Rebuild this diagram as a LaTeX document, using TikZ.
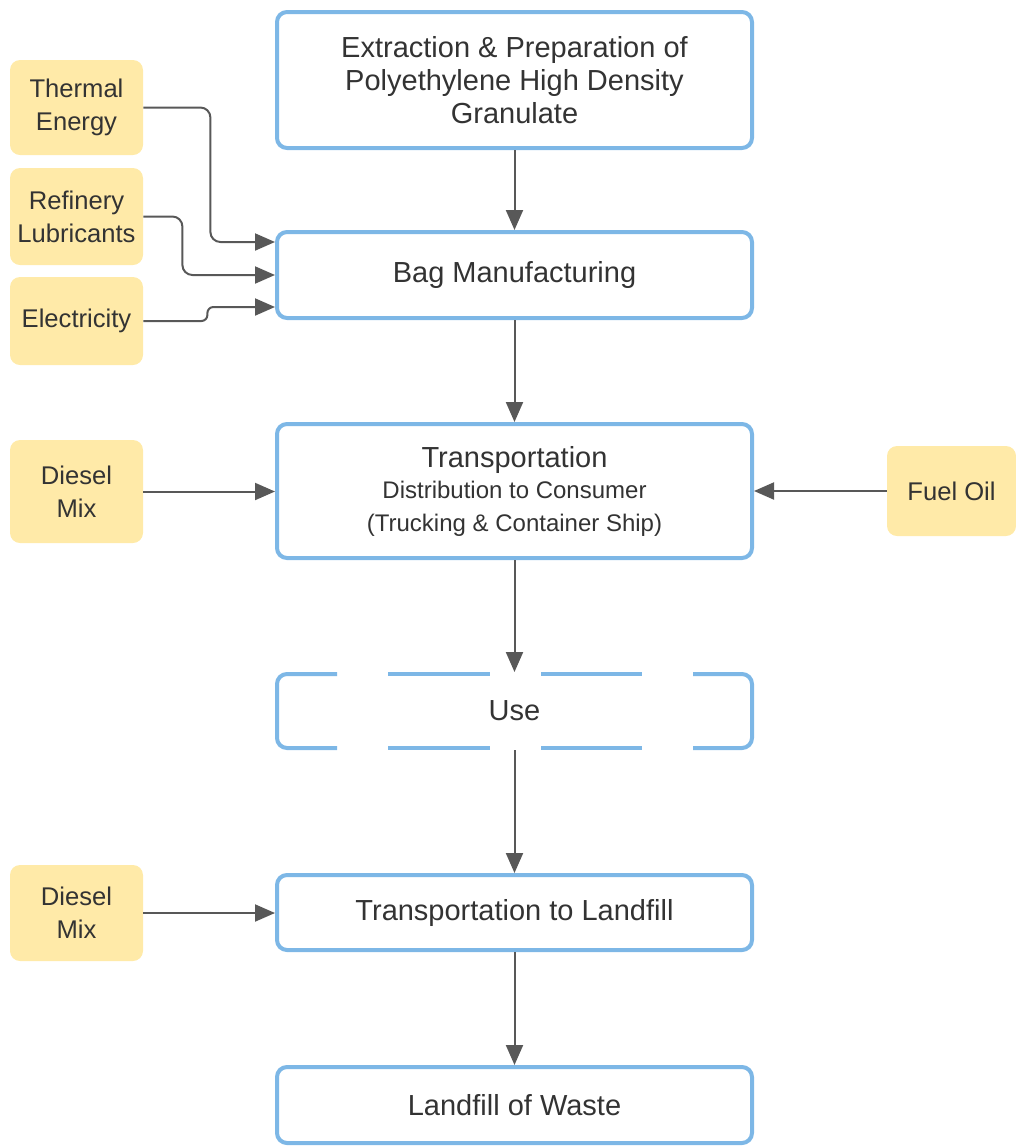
\documentclass[tikz,border=0pt]{standalone}
\usepackage{fontspec}
\setmainfont{Liberation Sans}
\usetikzlibrary{arrows.meta, calc, positioning}
\definecolor{boxblue}{RGB}{125,183,230}
\definecolor{inputyellow}{RGB}{255,234,168}
\definecolor{flowgray}{RGB}{88,88,88}
\definecolor{textgray}{RGB}{51,51,51}
\tikzset{
    stage/.style={rectangle, rounded corners=5pt, draw=boxblue, line width=2pt, fill=white, minimum width=237.5pt, inner sep=2pt, align=center, text=textgray, font=\fontsize{14.5}{16.5}\selectfont},
    stageOpen/.style={stage, draw=none},
    stageDash/.style={draw=boxblue, line width=2pt, rounded corners=5pt},
    inputBox/.style={rectangle, rounded corners=5pt, fill=inputyellow, minimum width=66.5pt, inner sep=2pt, align=center, text=textgray, font=\fontsize{12.8}{16.5}\selectfont},
    flow/.style={-{Triangle[length=10pt, width=8.5pt]}, draw=flowgray, line width=1pt},
}
\newcommand{\subLine}{\fontsize{12}{14}\selectfont}

\begin{document}
\begin{tikzpicture}[x=0.5pt, y=-0.5pt]
        \useasboundingbox (0,0) rectangle (1016,1147);

        % main stages
        \node[stage, minimum height=68pt] (extract) at (514.5, 80) {Extraction \& Preparation of\\Polyethylene High Density\\Granulate};
        \node[stage, minimum height=43pt] (bag) at (514.5, 275) {Bag Manufacturing};
        \node[stage, minimum height=67pt] (transport) at (514.5, 491) {Transportation\\[-1pt]\subLine Distribution to Consumer\\\subLine (Trucking \& Container Ship)};
        \node[stageOpen, minimum height=37pt] (use) at (514.5, 711) {Use};
        \node[stage, minimum height=37.5pt] (toLandfill) at (514.5, 912.5) {Transportation to Landfill};
        \node[stage, minimum height=38pt] (landfill) at (514.5, 1105) {Landfill of Waste};

        % open outline of the use stage
        \draw[stageDash] (337,674) -- (277,674) -- (277,748) -- (337,748);
        \draw[stageDash] (693,674) -- (752,674) -- (752,748) -- (693,748);
        \foreach \xa/\xb in {388/490, 541/642}{
            \draw[stageDash] (\xa,674) -- (\xb,674);
            \draw[stageDash] (\xa,748) -- (\xb,748);
        }

        % inputs
        \node[inputBox, minimum height=47.5pt] (thermal) at (76.5, 107.5) {Thermal\\Energy};
        \node[inputBox, minimum height=48.5pt] (lubricants) at (76.5, 216.5) {Refinery\\Lubricants};
        \node[inputBox, minimum height=44pt] (electricity) at (76.5, 321) {Electricity};
        \node[inputBox, minimum height=51.5pt] (dieselA) at (76.5, 491.5) {Diesel\\Mix};
        \node[inputBox, minimum height=48pt] (dieselB) at (76.5, 913) {Diesel\\Mix};
        \node[inputBox, minimum width=64.5pt, minimum height=45pt] (fuel) at (951.5, 491) {Fuel Oil};

        % flow between stages
        \draw[flow] (extract) -- (bag);
        \draw[flow] (bag) -- (transport);
        \draw[flow] (transport) -- (use.north);
        \draw[flow] (use.south) -- (toLandfill);
        \draw[flow] (toLandfill) -- (landfill);

        % inputs into stages
        \draw[flow, rounded corners=5pt] (thermal.east) -- ++(67,0) |- ($(bag.west)+(0,-33)$);
        \draw[flow, rounded corners=5pt] (lubricants.east) -- ++(39,0) |- (bag.west);
        \draw[flow, rounded corners=3pt] (electricity.east) -- ++(64,0) |- ($(bag.west)+(0,32)$);
        \draw[flow] (dieselA.east) -- (dieselA.east -| transport.west);
        \draw[flow] (fuel.west) -- (fuel.west -| transport.east);
        \draw[flow] (dieselB.east) -- (dieselB.east -| toLandfill.west);

    \end{tikzpicture}
\end{document}
